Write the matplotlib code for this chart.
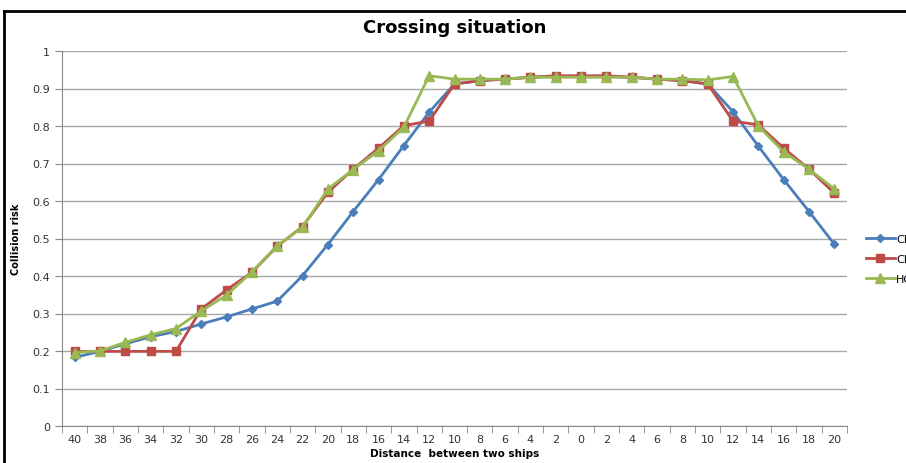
import matplotlib
matplotlib.use("Agg")
import matplotlib.pyplot as plt
from matplotlib.lines import Line2D

distances = ["40", "38", "36", "34", "32", "30", "28", "26", "24", "22", "20", "18", "16",
             "14", "12", "10", "8", "6", "4", "2", "0", "2", "4", "6", "8", "10", "12",
             "14", "16", "18", "20"]

cri_1 = [0.183, 0.199, 0.219, 0.238, 0.252, 0.272, 0.291, 0.312, 0.333, 0.401, 0.484,
         0.572, 0.657, 0.748, 0.837, 0.912, 0.921, 0.925, 0.930, 0.932, 0.932, 0.932,
         0.930, 0.925, 0.921, 0.912, 0.838, 0.746, 0.657, 0.572, 0.485]
cri_2 = [0.199, 0.199, 0.199, 0.199, 0.199, 0.312, 0.363, 0.410, 0.479, 0.532, 0.623,
         0.685, 0.741, 0.801, 0.813, 0.912, 0.921, 0.925, 0.930, 0.934, 0.934, 0.934,
         0.930, 0.925, 0.921, 0.912, 0.813, 0.803, 0.741, 0.685, 0.621]
hci = [0.196, 0.200, 0.223, 0.243, 0.260, 0.307, 0.349, 0.411, 0.481, 0.530, 0.632,
       0.684, 0.734, 0.797, 0.934, 0.925, 0.925, 0.925, 0.930, 0.930, 0.930, 0.930,
       0.930, 0.925, 0.925, 0.923, 0.932, 0.800, 0.731, 0.685, 0.632]

fig = plt.figure(figsize=(9.06, 4.64), dpi=100)
ax = fig.add_axes([62 / 906, 37 / 464, 785 / 906, 375 / 464])

x = list(range(len(distances)))
ax.plot(x, cri_1, color="#4A7EBB", lw=2, marker="D", ms=4, label="CRI-1")
ax.plot(x, cri_2, color="#BE4B48", lw=2, marker="s", ms=6, label="CRI-2")
ax.plot(x, hci, color="#98B954", lw=2, marker="^", ms=7, label="HCI")

ax.set_xlim(-0.5, len(distances) - 0.5)
ax.set_ylim(0, 1)
ax.set_yticks([i / 10 for i in range(11)])
ax.set_yticklabels(["0", "0.1", "0.2", "0.3", "0.4", "0.5", "0.6", "0.7", "0.8", "0.9", "1"])
ax.set_xticks(x)
ax.set_xticklabels(distances)
ax.set_xticks([i - 0.5 for i in range(len(distances) + 1)], minor=True)
ax.tick_params(axis="x", which="major", length=0, labelsize=8, pad=6, colors="#333333")
ax.tick_params(axis="x", which="minor", length=5, color="#888888")
ax.tick_params(axis="y", length=5, color="#888888", labelsize=8, colors="#333333")
ax.grid(axis="y", color="#a6a6a6", lw=1)
ax.set_axisbelow(True)
for s in ["top", "right"]:
    ax.spines[s].set_visible(False)
ax.spines["left"].set_color("#888888")
ax.spines["bottom"].set_color("#888888")

ax.set_title("Crossing situation", fontsize=13, fontweight="bold", pad=14)
ax.set_xlabel("Distance  between two ships", fontsize=7.5, fontweight="bold", labelpad=3)
ax.set_ylabel("Collision risk", fontsize=7, fontweight="bold", labelpad=8)

fig.legend(loc="center left", bbox_to_anchor=(866 / 906, 1 - 260 / 464), frameon=False,
           fontsize=8, handlelength=2.6, borderpad=0, borderaxespad=0, handletextpad=0.1,
           labelspacing=0.9)

# chart frame (only top and left edges fall inside the picture)
fig.add_artist(Line2D([4 / 906, 4 / 906], [0, 1 - 12 / 464], color="black", lw=2))
fig.add_artist(Line2D([4 / 906, 1], [1 - 12 / 464, 1 - 12 / 464], color="black", lw=2))

fig.savefig("out.png", dpi=100)
